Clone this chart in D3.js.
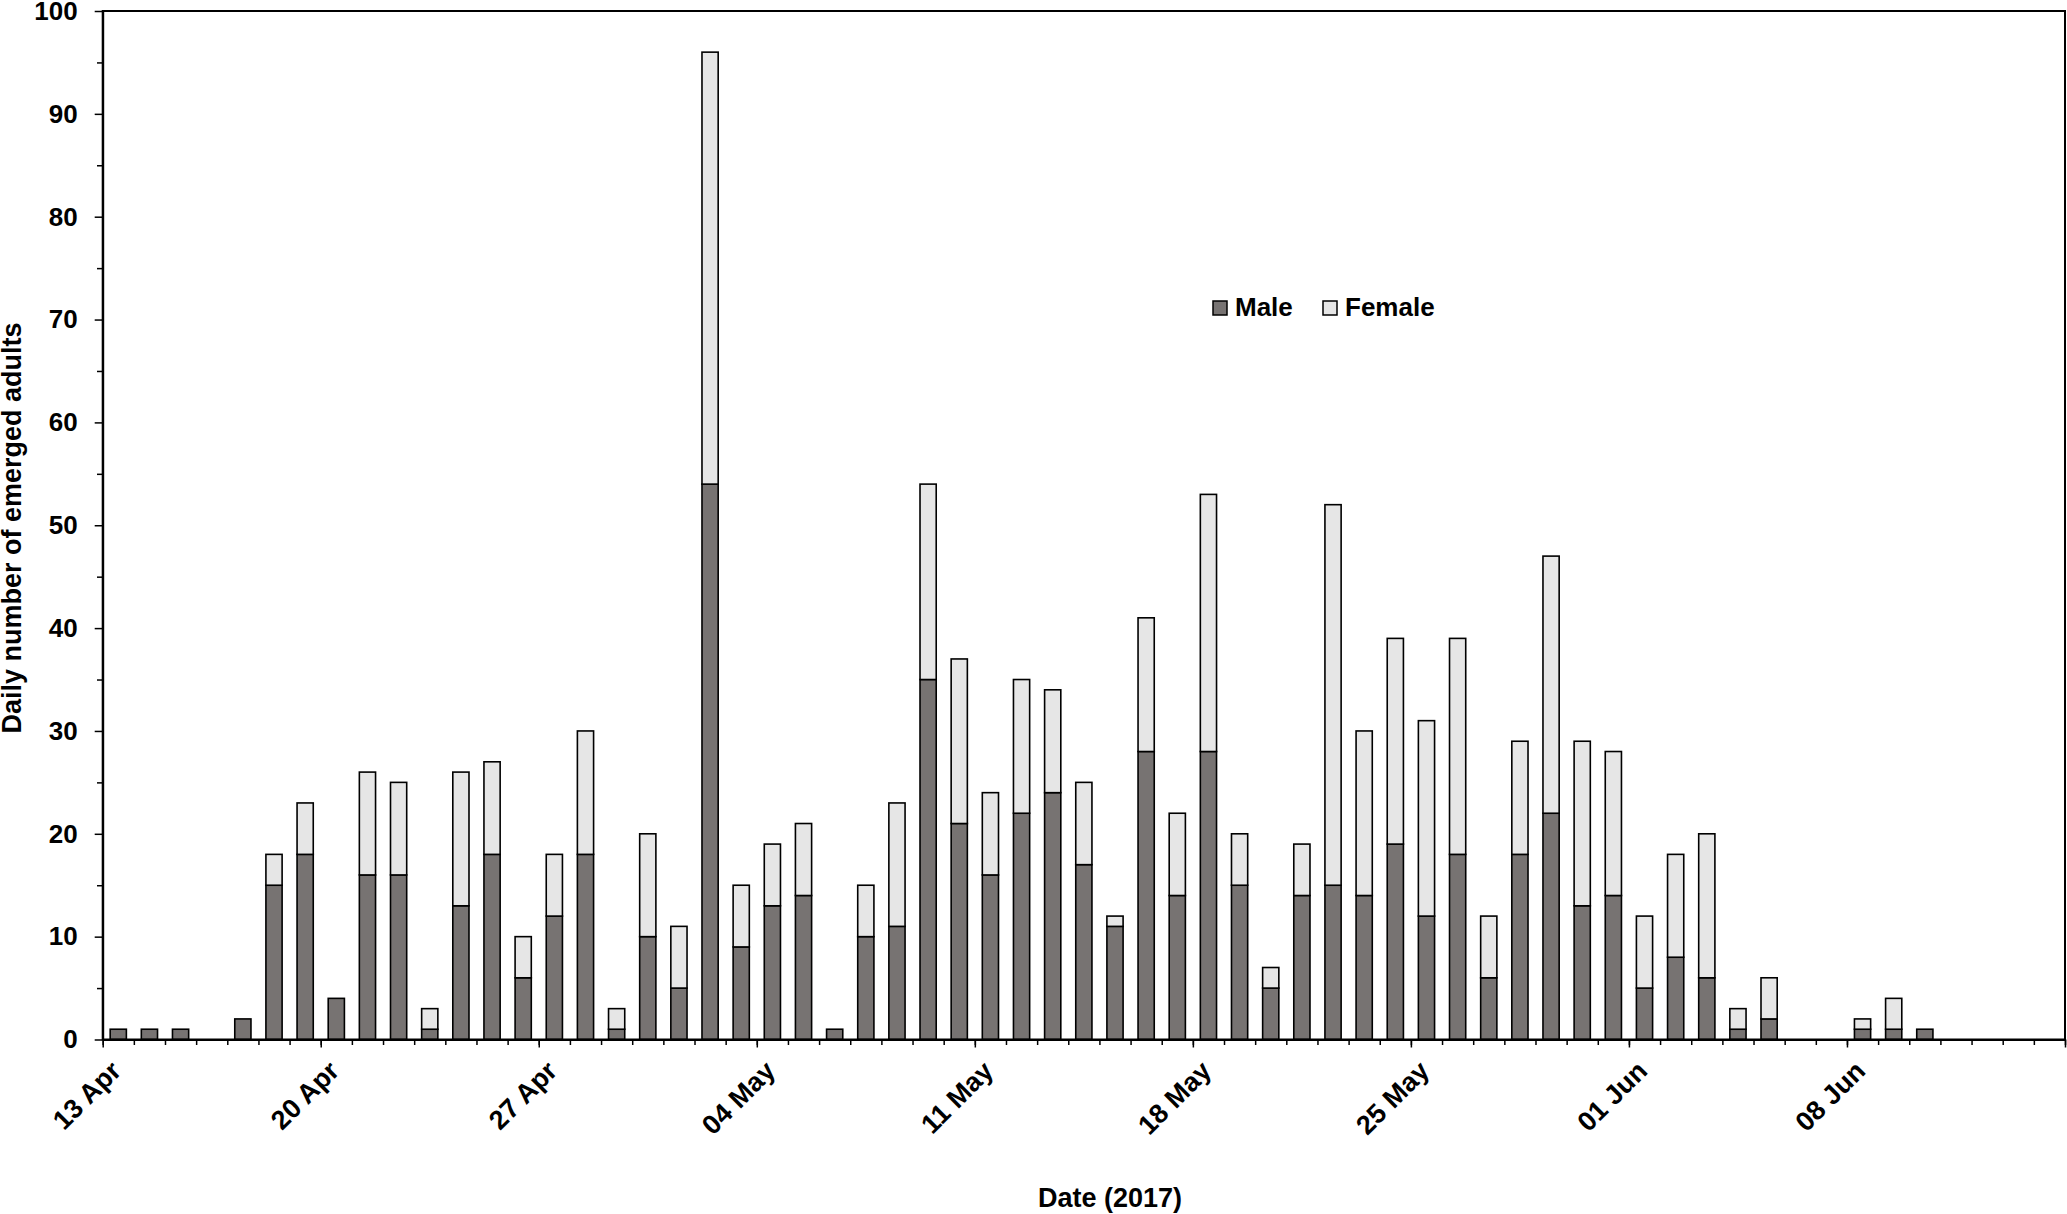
<!DOCTYPE html>
<html lang="en">
<head>
  <meta charset="UTF-8" />
  <title>Daily number of emerged adults</title>
  <script src="https://d3js.org/d3.v7.min.js"></script>
  <style>
    body {
      margin: 0;
      background: #fff;
    }
    svg {
      display: block;
      font-family: "Liberation Sans", Arial, sans-serif;
      font-weight: bold;
    }
  </style>
</head>
<body>
  <div id="chart"></div>
  <script>
    // first day shown and day after the last one (63 days)
    const startDay = new Date(Date.UTC(2017, 3, 13));
    const endDay = new Date(Date.UTC(2017, 5, 15));

    // daily counts, 13 Apr .. 14 Jun 2017
    const male = [
      1, 1, 1, 0, 2, 15, 18, 4, 16, 16, 1, 13, 18, 6, 12, 18, 1, 10, 5, 54,
      9, 13, 14, 1, 10, 11, 35, 21, 16, 22, 24, 17, 11, 28, 14, 28, 15, 5, 14, 15,
      14, 19, 12, 18, 6, 18, 22, 13, 14, 5, 8, 6, 1, 2, 0, 0, 1, 1, 1, 0,
      0, 0, 0
    ];
    const female = [
      0, 0, 0, 0, 0, 3, 5, 0, 10, 9, 2, 13, 9, 4, 6, 12, 2, 10, 6, 42,
      6, 6, 7, 0, 5, 12, 19, 16, 8, 13, 10, 8, 1, 13, 8, 25, 5, 2, 5, 37,
      16, 20, 19, 21, 6, 11, 25, 16, 14, 7, 10, 14, 2, 4, 0, 0, 1, 3, 0, 0,
      0, 0, 0
    ];
    const seriesNames = ["Male", "Female"];
    const seriesColors = ["#777372", "#e6e6e6"];
    const yTicks = d3.range(0, 101, 10);
    const yMinorTicks = d3.range(5, 100, 10);

    const W = 2067, H = 1214;
    const plotL = 102.7, plotR = 2065, plotT = 11, plotB = 1039.5;

    const days = d3.utcDay.range(startDay, endDay);
    const rows = days.map((d, i) => ({ day: d, Male: male[i], Female: female[i] }));

    const svg = d3.select("#chart")
      .append("svg")
      .attr("width", W)
      .attr("height", H);

    const xTime = d3.scaleUtc()
      .domain([startDay, endDay])
      .range([plotL, plotR]);

    const x = d3.scaleBand()
      .domain(days.map(d => +d))
      .range([plotL, plotR])
      .paddingInner(0.48)
      .paddingOuter(0.24);

    const y = d3.scaleLinear()
      .domain([0, 100])
      .range([plotB, plotT]);

    const color = d3.scaleOrdinal().domain(seriesNames).range(seriesColors);

    // stacked bars
    const stacked = d3.stack().keys(seriesNames)(rows);

    svg.append("g")
      .selectAll("g")
      .data(stacked)
      .join("g")
      .attr("fill", d => color(d.key))
      .selectAll("rect")
      .data(d => d.filter(s => s[1] - s[0] > 0))
      .join("rect")
      .attr("x", d => x(+d.data.day))
      .attr("width", x.bandwidth())
      .attr("y", d => y(d[1]))
      .attr("height", d => y(d[0]) - y(d[1]))
      .attr("stroke", "#000")
      .attr("stroke-width", 1.6);

    // frame
    svg.append("rect")
      .attr("x", plotL)
      .attr("y", plotT)
      .attr("width", plotR - plotL)
      .attr("height", plotB - plotT)
      .attr("fill", "none")
      .attr("stroke", "#000")
      .attr("stroke-width", 2);

    // y axis
    const yAxis = svg.append("g")
      .attr("transform", `translate(${plotL},0)`)
      .call(d3.axisLeft(y).tickValues(yTicks).tickSize(8).tickSizeOuter(0).tickPadding(17));
    yAxis.selectAll("text")
      .attr("font-size", 26)
      .attr("font-family", "Liberation Sans, Arial, sans-serif")
      .attr("font-weight", "bold")
      .attr("fill", "#000");

    svg.append("g")
      .attr("transform", `translate(${plotL},0)`)
      .call(d3.axisLeft(y).tickValues(yMinorTicks).tickSize(5.7).tickSizeOuter(0).tickFormat(""))
      .call(g => g.select(".domain").remove());

    // x axis: daily minor ticks, weekly labelled ticks
    svg.append("g")
      .attr("transform", `translate(0,${plotB})`)
      .call(d3.axisBottom(xTime).tickValues(d3.utcDay.range(startDay, d3.utcDay.offset(endDay, 1))).tickSize(5.5).tickSizeOuter(0).tickFormat(""));

    const weeks = d3.utcDay.range(startDay, d3.utcDay.offset(endDay, 1), 7);
    const xAxis = svg.append("g")
      .attr("transform", `translate(0,${plotB})`)
      .call(d3.axisBottom(xTime).tickValues(weeks).tickSize(8).tickSizeOuter(0).tickFormat(""));

    xAxis.selectAll(".lbl")
      .data(weeks.filter(d => d < endDay))
      .join("text")
      .attr("class", "lbl")
      .attr("transform", d => `translate(${xTime(d) + 20},33) rotate(-45)`)
      .attr("text-anchor", "end")
      .attr("font-size", 27)
      .attr("fill", "#000")
      .text(d => d3.utcFormat("%d %b")(d));

    svg.selectAll(".domain").attr("stroke-width", 2);
    svg.selectAll(".tick line").attr("stroke-width", 1.5);

    // axis titles
    svg.append("text")
      .attr("x", 1110)
      .attr("y", 1207)
      .attr("text-anchor", "middle")
      .attr("font-size", 27)
      .text("Date (2017)");

    svg.append("text")
      .attr("transform", "translate(21,528) rotate(-90)")
      .attr("text-anchor", "middle")
      .attr("font-size", 27)
      .text("Daily number of emerged adults");

    // legend
    const legendX = [1213, 1323];
    const legend = svg.append("g")
      .selectAll("g")
      .data(seriesNames)
      .join("g")
      .attr("transform", (d, i) => `translate(${legendX[i]},301)`);

    legend.append("rect")
      .attr("width", 14)
      .attr("height", 14)
      .attr("fill", d => color(d))
      .attr("stroke", "#000")
      .attr("stroke-width", 1.5);

    legend.append("text")
      .attr("x", 22)
      .attr("y", 15)
      .attr("font-size", 26)
      .text(d => d);
  </script>
</body>
</html>
